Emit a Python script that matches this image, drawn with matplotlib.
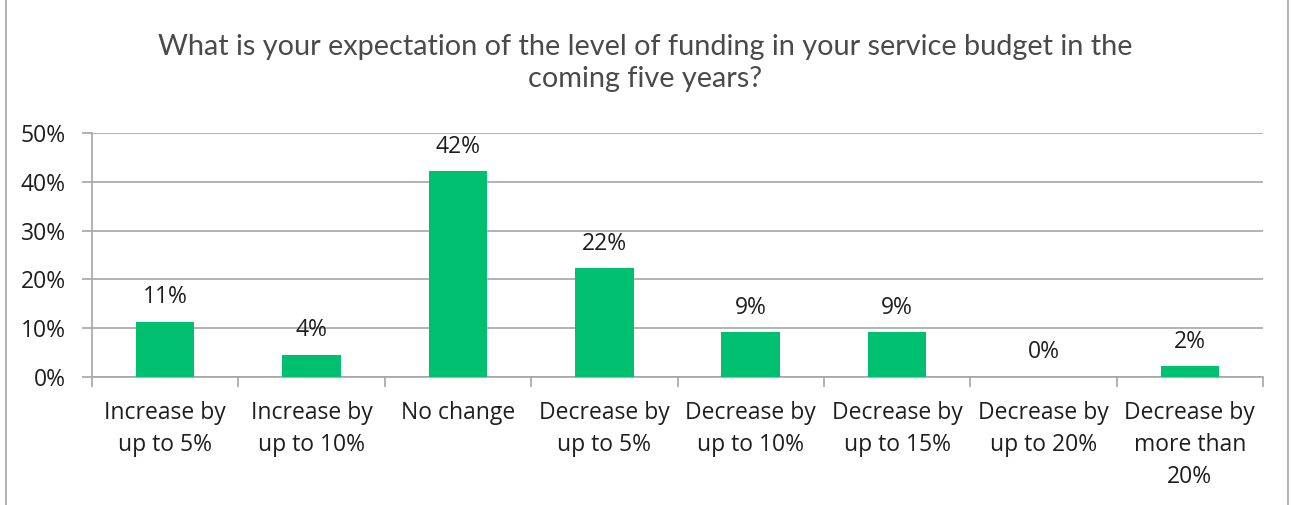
import matplotlib.pyplot as plt
from matplotlib.lines import Line2D

categories = [
    "Increase by\nup to 5%",
    "Increase by\nup to 10%",
    "No change",
    "Decrease by\nup to 5%",
    "Decrease by\nup to 10%",
    "Decrease by\nup to 15%",
    "Decrease by\nup to 20%",
    "Decrease by\nmore than\n20%",
]
values = [0.113, 0.046, 0.422, 0.223, 0.092, 0.092, 0.0, 0.022]
value_labels = ["11%", "4%", "42%", "22%", "9%", "9%", "0%", "2%"]
y_ticks = [0.0, 0.1, 0.2, 0.3, 0.4, 0.5]
y_tick_labels = ["0%", "10%", "20%", "30%", "40%", "50%"]

plt.rcParams["font.family"] = ["Open Sans", "DejaVu Sans"]
FS = 16.5
TXT = "#1e1e1e"
GRID = "#a6a6a6"

fig = plt.figure(figsize=(12.91, 5.05), dpi=100)
ax = fig.add_axes([92 / 1291, 1 - 377 / 505, (1263 - 92) / 1291, (377 - 133) / 505])

x = range(len(categories))
bars = ax.bar(x, values, width=0.4, color="#00bf6f", zorder=3)
for b, lab in zip(bars, value_labels):
    ax.annotate(lab, (b.get_x() + b.get_width() / 2, b.get_height()),
                xytext=(0, 9), textcoords="offset points", ha="center",
                va="bottom", fontsize=FS, color=TXT)

ax.set_xlim(-0.5, len(categories) - 0.5)
ax.set_ylim(0, 0.5)
ax.set_yticks(y_ticks)
ax.set_yticklabels(y_tick_labels, fontsize=FS, color=TXT)
ax.yaxis.grid(True, color=GRID, linewidth=1.2, zorder=0)

ax.set_xticks([i - 0.5 for i in range(len(categories) + 1)])
ax.set_xticklabels([])
ax.set_xticks(list(x), minor=True)
ax.set_xticklabels(categories, minor=True, fontsize=FS, color=TXT,
                   linespacing=1.45, va="top")
ax.tick_params(axis="x", which="minor", length=0, pad=17)
ax.tick_params(axis="x", which="major", length=7, color=GRID, width=1.2)
ax.tick_params(axis="y", length=7, color=GRID, width=1.2, pad=12)

for s in ["top", "right"]:
    ax.spines[s].set_visible(False)
for s in ["left", "bottom"]:
    ax.spines[s].set_color(GRID)
    ax.spines[s].set_linewidth(1.2)

fig.text(0.5, 1 - 63 / 505,
         "What is your expectation of the level of funding in your service budget in the\ncoming five years?",
         ha="center", va="center", fontsize=20.8,
         family=["Lato", "DejaVu Sans"], color="#4a4a4a", linespacing=1.33)

# chart frame edges
fig.add_artist(Line2D([6 / 1291, 6 / 1291], [0, 1], color=GRID, linewidth=1.2))
fig.add_artist(Line2D([1288 / 1291, 1288 / 1291], [0, 1], color=GRID, linewidth=1.2))

fig.savefig("out.png", dpi=100)
